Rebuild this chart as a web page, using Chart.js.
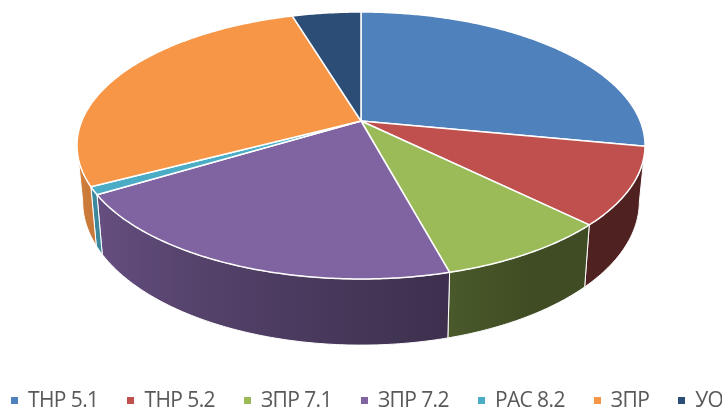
<!DOCTYPE html>
<html lang="ru">
<head>
    <meta charset="UTF-8">
    <title>Pie 3D</title>
    <script src="https://cdn.jsdelivr.net/npm/chart.js"></script>
    <style>
        body {
            margin: 0;
            background: #ffffff;
            overflow: hidden;
        }
        .wrap {
            position: relative;
            width: 722px;
            height: 410px;
        }
        #legend {
            position: absolute;
            left: 11px;
            top: 389px;
            white-space: nowrap;
            font-family: "Open Sans", sans-serif;
            font-size: 21px;
            line-height: 21px;
            letter-spacing: -0.6px;
            color: #595959;
        }
        #legend .item {
            margin-right: 29px;
        }
        #legend .box {
            display: inline-block;
            width: 7px;
            height: 7px;
            margin-right: 10px;
            margin-bottom: 3px;
        }
    </style>
</head>
<body>
    <div class="wrap">
        <canvas id="pieChart" width="722" height="410"></canvas>
        <div id="legend"></div>
    </div>

    <script>
        const labels = ['ТНР 5.1', 'ТНР 5.2', 'ЗПР 7.1', 'ЗПР 7.2', 'РАС 8.2', 'ЗПР', 'УО'];
        const values = [30, 10, 9, 22, 1, 30, 5];
        const colors = ['#4f81bd', '#c0504d', '#9bbb59', '#8064a2', '#4bacc6', '#f79646', '#2c4d75'];

        // tilted disc seen with a bit of perspective
        const view = { cy: 121, rx: 279.2, ry: 129, persp: -0.1834, depth: 54, shrink: 0.98 };

        function topPoint(cx, a) {
            const u = Math.cos(a), v = Math.sin(a), w = 1 + view.persp * v;
            return [cx + view.rx * u / w, view.cy + view.ry * v / w];
        }
        function bottomPoint(cx, a) {
            const p = topPoint(cx, a);
            const w = 1 + view.persp * Math.sin(a);
            return [cx + view.shrink * (p[0] - cx), p[1] + view.depth / w];
        }
        function shade(hex, f) {
            const n = parseInt(hex.slice(1), 16);
            const r = Math.round(((n >> 16) & 255) * f);
            const g = Math.round(((n >> 8) & 255) * f);
            const b = Math.round((n & 255) * f);
            return `rgb(${r},${g},${b})`;
        }
        // light from the left: side walls get darker towards the right
        function wallFactor(a) {
            const deg = a * 180 / Math.PI;
            return Math.min(0.9, 0.41 + 0.47 * Math.max(0, (deg - 60) / 109));
        }

        const pie3d = {
            id: 'pie3d',
            beforeDatasetsDraw(chart) {
                const ctx = chart.ctx;
                const arcs = chart.getDatasetMeta(0).data;
                const cx = arcs[0].x;
                const sil = Math.asin(-view.persp);
                ctx.save();
                ctx.lineJoin = 'round';

                // side walls
                arcs.forEach((arc, i) => {
                    const b1 = Math.max(arc.startAngle, sil);
                    const b2 = Math.min(arc.endAngle, Math.PI - sil);
                    if (b2 <= b1) return;
                    const n = Math.max(2, Math.ceil((b2 - b1) / 0.01));
                    ctx.beginPath();
                    for (let k = 0; k <= n; k++) {
                        const p = topPoint(cx, b1 + (b2 - b1) * k / n);
                        k === 0 ? ctx.moveTo(p[0], p[1]) : ctx.lineTo(p[0], p[1]);
                    }
                    for (let k = n; k >= 0; k--) {
                        const p = bottomPoint(cx, b1 + (b2 - b1) * k / n);
                        ctx.lineTo(p[0], p[1]);
                    }
                    ctx.closePath();
                    const xL = topPoint(cx, b2)[0];
                    const xR = topPoint(cx, b1)[0];
                    if (xR - xL > 1) {
                        const g = ctx.createLinearGradient(xL, 0, xR, 0);
                        for (let j = 0; j <= 6; j++) {
                            const a = b2 - (b2 - b1) * j / 6;
                            const t = (topPoint(cx, a)[0] - xL) / (xR - xL);
                            g.addColorStop(Math.min(1, Math.max(0, t)), shade(colors[i], wallFactor(a)));
                        }
                        ctx.fillStyle = g;
                    } else {
                        ctx.fillStyle = shade(colors[i], wallFactor((b1 + b2) / 2));
                    }
                    ctx.fill();
                    ctx.strokeStyle = '#ffffff';
                    ctx.lineWidth = 1;
                    ctx.stroke();
                });

                // top faces
                arcs.forEach((arc, i) => {
                    const a1 = arc.startAngle, a2 = arc.endAngle;
                    const n = Math.max(2, Math.ceil((a2 - a1) / 0.01));
                    ctx.beginPath();
                    ctx.moveTo(cx, view.cy);
                    for (let k = 0; k <= n; k++) {
                        const p = topPoint(cx, a1 + (a2 - a1) * k / n);
                        ctx.lineTo(p[0], p[1]);
                    }
                    ctx.closePath();
                    ctx.fillStyle = colors[i];
                    ctx.fill();
                    ctx.strokeStyle = '#ffffff';
                    ctx.lineWidth = 1.5;
                    ctx.stroke();
                });

                ctx.restore();
                return false;
            }
        };

        new Chart(document.getElementById('pieChart'), {
            type: 'pie',
            data: {
                labels: labels,
                datasets: [{
                    data: values,
                    backgroundColor: colors,
                    borderWidth: 0
                }]
            },
            options: {
                responsive: false,
                animation: false,
                devicePixelRatio: 1,
                events: [],
                plugins: {
                    legend: { display: false },
                    tooltip: { enabled: false }
                }
            },
            plugins: [pie3d]
        });

        // legend below the pie
        const legend = document.getElementById('legend');
        labels.forEach((label, i) => {
            const item = document.createElement('span');
            item.className = 'item';
            item.innerHTML = `<span class="box" style="background:${colors[i]}"></span>${label}`;
            legend.appendChild(item);
        });
    </script>
</body>
</html>
